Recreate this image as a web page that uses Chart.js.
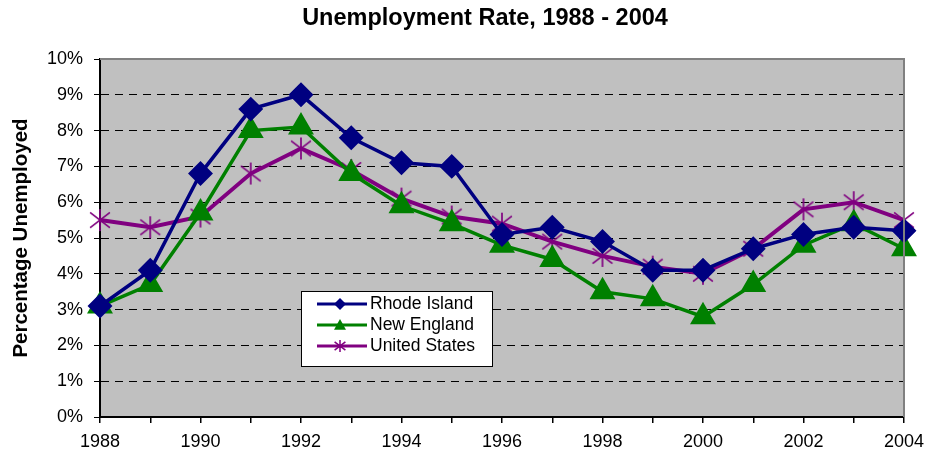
<!DOCTYPE html>
<html>
<head>
<meta charset="utf-8">
<title>Unemployment Rate, 1988 - 2004</title>
<script src="https://cdn.jsdelivr.net/npm/chart.js@4.4.0/dist/chart.umd.min.js"></script>
<style>
  html, body { margin: 0; padding: 0; background: #fff; }
  #wrap { width: 925px; height: 457px; }
</style>
</head>
<body>
<div id="wrap"><canvas id="grafico" width="925" height="457"></canvas></div>
<script>
const years = ['1988', '1989', '1990', '1991', '1992', '1993', '1994', '1995', '1996',
  '1997', '1998', '1999', '2000', '2001', '2002', '2003', '2004'];
const rhodeIsland = [3.1, 4.1, 6.8, 8.6, 9.0, 7.8, 7.1, 7.0, 5.1, 5.3, 4.9, 4.1, 4.1, 4.7, 5.1, 5.3, 5.2];
const newEngland = [3.1, 3.7, 5.7, 8.0, 8.1, 6.8, 5.9, 5.4, 4.8, 4.4, 3.5, 3.3, 2.8, 3.7, 4.8, 5.4, 4.7];
const unitedStates = [5.5, 5.3, 5.6, 6.8, 7.5, 6.9, 6.1, 5.6, 5.4, 4.9, 4.5, 4.2, 4.0, 4.7, 5.8, 6.0, 5.5];
const yTicks = [0, 1, 2, 3, 4, 5, 6, 7, 8, 9, 10];

const fuente = 'Arial, "Liberation Sans", sans-serif';
const titulo = 'Unemployment Rate, 1988 - 2004';

// asterisco de 6 brazos para Estados Unidos
function asterisco(r, color, grosor) {
  const c = document.createElement('canvas');
  c.width = c.height = Math.ceil(2 * r + 4);
  const ctx = c.getContext('2d');
  const m = c.width / 2;
  ctx.strokeStyle = color;
  ctx.lineWidth = grosor;
  ctx.beginPath();
  ctx.moveTo(m, m - r); ctx.lineTo(m, m + r);
  ctx.moveTo(m - r * 0.9, m - r * 0.7); ctx.lineTo(m + r * 0.9, m + r * 0.7);
  ctx.moveTo(m - r * 0.9, m + r * 0.7); ctx.lineTo(m + r * 0.9, m - r * 0.7);
  ctx.stroke();
  return c;
}

// fondo gris del area de trazado, borde y titulo
const fondoPlot = {
  id: 'fondoPlot',
  beforeDraw(chart) {
    const { ctx, chartArea: a } = chart;
    ctx.save();
    ctx.fillStyle = '#c0c0c0';
    ctx.fillRect(a.left, a.top, a.right - a.left, a.bottom - a.top);
    ctx.fillStyle = '#000';
    ctx.font = 'bold 23.5px ' + fuente;
    ctx.textAlign = 'center';
    ctx.textBaseline = 'middle';
    ctx.fillText(titulo, 485, 19);
    ctx.restore();
  },
  afterDatasetsDraw(chart) {
    const { ctx, chartArea: a } = chart;
    ctx.save();
    ctx.strokeStyle = '#808080';
    ctx.lineWidth = 2;
    ctx.beginPath();
    ctx.moveTo(a.left, a.top);
    ctx.lineTo(a.right, a.top);
    ctx.lineTo(a.right, a.bottom);
    ctx.stroke();
    ctx.restore();
  }
};

// leyenda dentro del grafico
function marcador(ctx, estilo, x, y, r, color) {
  ctx.fillStyle = color;
  ctx.strokeStyle = color;
  ctx.beginPath();
  if (estilo === 'rectRot') {
    ctx.moveTo(x, y - r); ctx.lineTo(x + r, y); ctx.lineTo(x, y + r); ctx.lineTo(x - r, y);
    ctx.closePath(); ctx.fill();
  } else if (estilo === 'triangle') {
    ctx.moveTo(x, y - r); ctx.lineTo(x + r, y + r * 0.8); ctx.lineTo(x - r, y + r * 0.8);
    ctx.closePath(); ctx.fill();
  } else {
    ctx.lineWidth = 1.5;
    ctx.moveTo(x, y - r); ctx.lineTo(x, y + r);
    ctx.moveTo(x - r * 0.9, y - r * 0.7); ctx.lineTo(x + r * 0.9, y + r * 0.7);
    ctx.moveTo(x - r * 0.9, y + r * 0.7); ctx.lineTo(x + r * 0.9, y - r * 0.7);
    ctx.stroke();
  }
}

const estilosLeyenda = ['rectRot', 'triangle', 'asterisco'];

const leyenda = {
  id: 'leyenda',
  afterDraw(chart) {
    const { ctx } = chart;
    const x0 = 301, y0 = 291, w = 191, h = 75;
    ctx.save();
    ctx.fillStyle = '#fff';
    ctx.fillRect(x0, y0, w, h);
    ctx.strokeStyle = '#000';
    ctx.lineWidth = 1;
    ctx.strokeRect(x0 + 0.5, y0 + 0.5, w, h);
    chart.data.datasets.forEach((ds, i) => {
      const y = y0 + 13 + i * 21;
      ctx.strokeStyle = ds.borderColor;
      ctx.lineWidth = 3;
      ctx.beginPath();
      ctx.moveTo(x0 + 16, y);
      ctx.lineTo(x0 + 66, y);
      ctx.stroke();
      marcador(ctx, estilosLeyenda[i], x0 + 39, y, 6, ds.borderColor);
      ctx.fillStyle = '#000';
      ctx.font = '17.5px ' + fuente;
      ctx.textBaseline = 'middle';
      ctx.fillText(ds.label, x0 + 69, y);
    });
    ctx.restore();
  }
};

new Chart(document.getElementById('grafico').getContext('2d'), {
  type: 'line',
  data: {
    labels: years,
    datasets: [
      {
        label: 'Rhode Island',
        data: rhodeIsland,
        borderColor: '#000080',
        backgroundColor: '#000080',
        pointStyle: 'rectRot',
        pointRadius: 10,
        borderWidth: 3.5
      },
      {
        label: 'New England',
        data: newEngland,
        borderColor: '#008000',
        backgroundColor: '#008000',
        pointStyle: 'triangle',
        pointRadius: 11.5,
        borderWidth: 3.5
      },
      {
        label: 'United States',
        data: unitedStates,
        borderColor: '#800080',
        backgroundColor: '#800080',
        pointStyle: asterisco(11, '#800080', 1.7),
        pointRadius: 11,
        borderWidth: 4
      }
    ]
  },
  options: {
    responsive: false,
    animation: false,
    layout: { padding: { left: 0, right: 21, top: 59, bottom: 0 } },
    elements: { line: { tension: 0 } },
    plugins: {
      legend: { display: false },
      tooltip: { enabled: false },
      title: { display: false }
    },
    scales: {
      x: {
        type: 'category',
        offset: false,
        afterFit: (axis) => {
          axis.height = 40;
          axis.paddingLeft = 0;
          axis.paddingRight = 0;
        },
        grid: {
          drawOnChartArea: false,
          drawTicks: true,
          tickLength: 6,
          color: '#000',
          lineWidth: 1.5
        },
        border: { color: '#000', width: 2 },
        ticks: {
          autoSkip: false,
          maxRotation: 0,
          color: '#000',
          padding: 8,
          font: { family: fuente, size: 18 },
          callback: (v, i) => (i % 2 === 0 ? years[i] : '')
        }
      },
      y: {
        min: 0,
        max: 10,
        afterBuildTicks: (axis) => { axis.ticks = yTicks.map(v => ({ value: v })); },
        afterFit: (axis) => { axis.width = 100; },
        grid: {
          color: '#000',
          lineWidth: 1,
          tickLength: 6,
          tickColor: '#000',
          tickBorderDash: [],
          drawTicks: true
        },
        border: { color: '#000', width: 2, dash: [8, 6] },
        ticks: {
          color: '#000',
          padding: 11,
          font: { family: fuente, size: 18 },
          callback: v => v + '%'
        },
        title: {
          display: true,
          text: 'Percentage Unemployed',
          color: '#000',
          font: { family: fuente, size: 20.5, weight: 'bold' },
          padding: { top: 9, bottom: 0 }
        }
      }
    }
  },
  plugins: [fondoPlot, leyenda]
});
</script>
</body>
</html>
